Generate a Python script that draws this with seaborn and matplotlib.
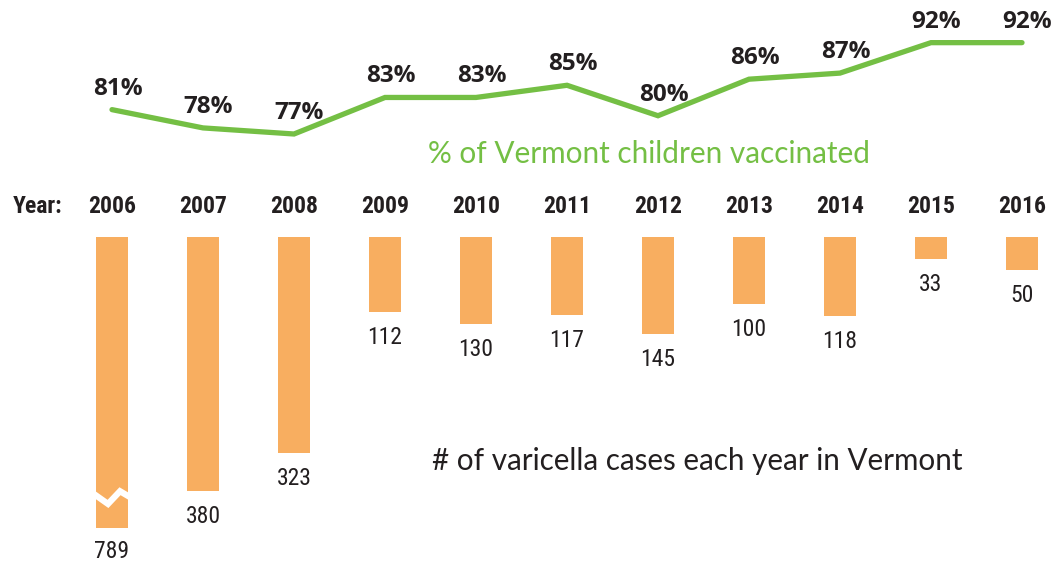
import numpy as np
import pandas as pd
import matplotlib
matplotlib.use("Agg")
import matplotlib.pyplot as plt
import seaborn as sns
from matplotlib import font_manager

# ---------------- data ----------------
years = ["2006", "2007", "2008", "2009", "2010", "2011", "2012", "2013", "2014", "2015", "2016"]
pct_vaccinated = [81, 78, 77, 83, 83, 85, 80, 86, 87, 92, 92]
varicella_cases = [789, 380, 323, 112, 130, 117, 145, 100, 118, 33, 50]
bar_cap = 435  # bars longer than this are drawn shortened with a break mark

line_title = "% of Vermont children vaccinated"
bar_title = "# of varicella cases each year in Vermont"
year_caption = "Year:"

# ---------------- style ----------------
sns.set_theme(style="white")
installed = {f.name for f in font_manager.fontManager.ttflist}


def pick(*names):
    for n in names:
        if n in installed:
            return n
    return "DejaVu Sans"


narrow_font = pick("Liberation Sans Narrow", "Roboto Condensed", "Open Sans Condensed", "Roboto", "Lato")
bold_font = pick("Open Sans", "Lato", "Noto Sans")
label_font = pick("Lato", "Open Sans", "Noto Sans")

green = "#74BF44"
orange = "#F8AE60"
dark = "#231F20"

W, H = 1059, 562
fig = plt.figure(figsize=(W / 100, H / 100), dpi=100)
fig.patch.set_facecolor("white")

# pixel geometry of the original layout
x_first, x_step = 112, 91           # centre of first column, spacing (px)
bar_top_px, px_per_case = 237, 0.669
xlim = (-x_first / x_step, (W - x_first) / x_step)

df = pd.DataFrame({"year": years, "pct": pct_vaccinated, "cases": varicella_cases})
df["shown"] = df["cases"].clip(upper=bar_cap)
df["idx"] = np.arange(len(df))

# ---------------- bars ----------------
ax_bar = fig.add_axes([0, 0, 1, 1])
sns.barplot(data=df, x="year", y="shown", ax=ax_bar, color=orange, saturation=1,
            width=32 / x_step, linewidth=0)
ax_bar.set_xlim(*xlim)
ax_bar.set_ylim((H - bar_top_px) / px_per_case, -bar_top_px / px_per_case)
ax_bar.set_axis_off()

# break mark on shortened bars
for i, (c, s) in enumerate(zip(df["cases"], df["shown"])):
    if c > s:
        dx = np.array([-0.20, -0.044, 0.088, 0.20])
        dy = np.array([-51, -36, -55, -46])
        ax_bar.plot(i + dx, s + dy, color="white", lw=4.5, solid_joinstyle="miter",
                    solid_capstyle="butt", zorder=5)

# value labels under bars
for i, (c, s) in enumerate(zip(df["cases"], df["shown"])):
    off = 30 if c > s else 32
    ax_bar.text(i, s + off / px_per_case, f"{c}", ha="center", va="baseline",
                fontsize=17, family=narrow_font, color=dark)

# year labels
y_year = (213 - bar_top_px) / px_per_case
for i, yr in enumerate(years):
    ax_bar.text(i, y_year, yr, ha="center", va="baseline", fontsize=17,
                fontweight="bold", family=narrow_font, color=dark)
ax_bar.text((13 - x_first) / x_step, y_year, year_caption, ha="left", va="baseline",
            fontsize=17, fontweight="bold", family=narrow_font, color=dark)

# ---------------- line ----------------
ax_line = fig.add_axes([0, 0, 1, 1])
ax_line.patch.set_alpha(0)
sns.lineplot(data=df, x="idx", y="pct", ax=ax_line, color=green, linewidth=3.8,
             solid_capstyle="round", solid_joinstyle="miter")
px_per_pct, ref_px, ref_val = 6.09, 134, 77
ax_line.set_xlim(*xlim)
ax_line.set_ylim(ref_val - (H - ref_px) / px_per_pct, ref_val + ref_px / px_per_pct)
ax_line.set_axis_off()

for i, v in enumerate(pct_vaccinated):
    ax_line.annotate(f"{v}%", (i, v), xytext=(5.5, 15), textcoords="offset pixels",
                     ha="center", va="baseline", fontsize=17.5, fontweight="bold",
                     family=bold_font, color=dark)

# ---------------- titles ----------------
fig.text(428 / W, 1 - 162.7 / H, line_title, ha="left", va="baseline",
         fontsize=21.4, family=label_font, color=green)
fig.text(432 / W, 1 - 470 / H, bar_title, ha="left", va="baseline",
         fontsize=21.3, family=label_font, color=dark)

fig.savefig("out.png", dpi=100, facecolor="white")
